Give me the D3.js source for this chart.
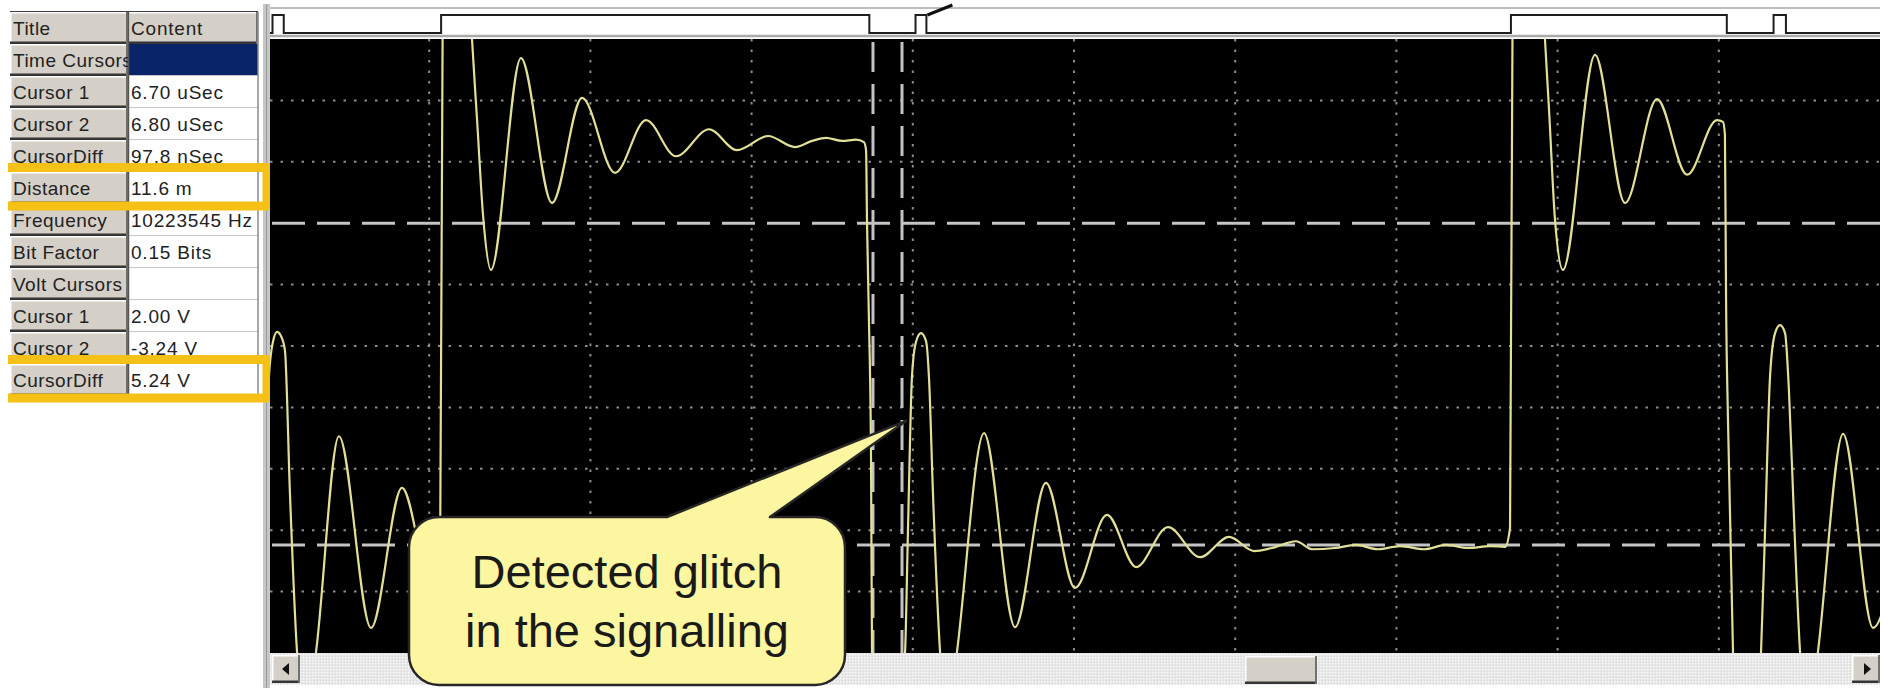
<!DOCTYPE html>
<html><head><meta charset="utf-8">
<script src="https://cdn.jsdelivr.net/npm/d3@7"></script>
<style>
html,body{margin:0;padding:0;background:#fff;}
svg{display:block;}
</style></head><body>
<svg id="c" width="1884" height="688"></svg>
<script>
// ---------------- data ----------------
const tableTitles   = ["Title","Time Cursors","Cursor 1","Cursor 2","CursorDiff","Distance","Frequency","Bit Factor","Volt Cursors","Cursor 1","Cursor 2","CursorDiff"];
const tableContents = ["Content","","6.70 uSec","6.80 uSec","97.8 nSec","11.6 m","10223545 Hz","0.15 Bits","","2.00 V","-3.24 V","5.24 V"];
const highlightedRows = [5, 11];
const selectedRow = 1;

// waveform samples: time in horizontal divisions, amplitude in volts (1 V/div)
const timeDiv = [-0.081,-0.037,-0.019,0.006,0.031,0.056,0.081,0.105,0.136,0.180,0.236,0.298,0.440,0.639,0.831,1.017,1.067,1.086,1.179,1.266,1.297,1.334,1.383,1.569,1.762,1.948,2.153,2.345,2.531,2.736,2.909,3.102,3.269,3.375,3.462,3.561,3.648,3.697,3.710,3.716,3.728,3.741,3.747,3.766,3.828,3.908,3.952,3.970,3.995,4.020,4.051,4.082,4.101,4.125,4.169,4.218,4.274,4.442,4.634,4.826,5.006,5.205,5.385,5.583,5.782,5.962,6.117,6.228,6.377,6.476,6.619,6.749,6.886,7.022,7.171,7.308,7.444,7.581,7.674,7.705,7.723,7.829,7.922,7.947,7.984,8.033,8.232,8.418,8.617,8.803,8.989,9.026,9.038,9.045,9.057,9.088,9.119,9.175,9.231,9.262,9.287,9.318,9.349,9.380,9.411,9.435,9.467,9.504,9.559,9.615,9.771,9.957,10.093];
const volts   = [-6.09,-4.98,-3.00,-0.49,0.07,0.23,0.16,-0.07,-2.39,-4.98,-6.09,-4.98,-1.47,-4.59,-2.31,-3.94,-3.76,6.61,10.52,4.98,3.68,2.13,1.24,4.69,2.33,4.04,2.82,3.68,3.09,3.53,3.19,3.42,3.24,3.34,3.39,3.34,3.36,3.32,3.19,2.02,0.42,-1.86,-4.98,-6.09,-6.74,-6.09,-4.98,-3.00,-0.49,0.07,0.21,0.08,-0.55,-2.39,-4.98,-6.09,-4.98,-1.42,-4.58,-2.23,-3.94,-2.75,-3.60,-2.95,-3.44,-3.11,-3.34,-3.29,-3.18,-3.31,-3.29,-3.24,-3.31,-3.26,-3.31,-3.24,-3.29,-3.26,-3.27,-2.96,6.61,10.52,4.98,3.84,2.05,1.24,4.74,2.33,4.02,2.79,3.68,3.65,3.44,0.77,-1.21,-4.98,-6.09,-6.74,-6.09,-4.98,-3.00,-0.49,0.21,0.34,0.21,-0.72,-2.83,-4.98,-6.09,-4.98,-1.43,-4.59,-3.49];

const timeCursors = [3.753, 3.933];      // cursor 1, cursor 2 (divisions)
const voltCursors = [2.00, -3.24];       // volt cursors
const logicThreshold = 0;                // volts, for digital trace
const glitchMarker = {t: 3.958, v: -1.22};
const calloutLines = ["Detected glitch", "in the signalling"];
const xGridDiv = [1,2,3,4,5,6,7,8,9];
const yGridVolts = [-4,-3,-2,-1,0,1,3,4];

// ---------------- layout ----------------
const svg = d3.select("#c");
const P = {x0: 268, x1: 1880, y0: 39, y1: 653, left: 270};
const x = d3.scaleLinear().domain([0, 10]).range([P.x0, P.x1]);
const y = d3.scaleLinear().domain([-5, 5]).range([P.y1, P.y0]);
const yL = d3.scaleLinear().domain([0, 1]).range([33, 15]);
const FONT = "'Liberation Sans', Arial, sans-serif";

const defs = svg.append("defs");
defs.append("clipPath").attr("id","plotClip").append("rect")
  .attr("x",P.left).attr("y",P.y0).attr("width",P.x1-P.left).attr("height",P.y1-P.y0);
defs.append("clipPath").attr("id","stripClip").append("rect")
  .attr("x",P.left).attr("y",0).attr("width",P.x1-P.left).attr("height",39);
defs.append("clipPath").attr("id","leftColClip").append("rect")
  .attr("x",10).attr("y",0).attr("width",119).attr("height",688);
const pat = defs.append("pattern").attr("id","dith").attr("width",3).attr("height",3).attr("patternUnits","userSpaceOnUse");
pat.append("rect").attr("width",3).attr("height",3).attr("fill","#e8e8e8");
pat.append("rect").attr("width",1).attr("height",1).attr("fill","#ffffff");
pat.append("rect").attr("x",2).attr("y",2).attr("width",1).attr("height",1).attr("fill","#d8d8d8");

function bevel(g, bx, by, w, h, fill){
  g.append("rect").attr("x",bx).attr("y",by).attr("width",w).attr("height",h).attr("fill",fill);
  g.append("line").attr("x1",bx).attr("x2",bx+w).attr("y1",by+0.75).attr("y2",by+0.75).attr("stroke","#fff").attr("stroke-width",1.5);
  g.append("line").attr("x1",bx+0.75).attr("x2",bx+0.75).attr("y1",by).attr("y2",by+h).attr("stroke","#fff").attr("stroke-width",1.5);
  g.append("line").attr("x1",bx).attr("x2",bx+w).attr("y1",by+h-1.25).attr("y2",by+h-1.25).attr("stroke","#353535").attr("stroke-width",2.5);
  g.append("line").attr("x1",bx+w-1).attr("x2",bx+w-1).attr("y1",by).attr("y2",by+h).attr("stroke","#707070").attr("stroke-width",2);
}

// ---------------- table ----------------
const T = {x0: 10, x1: 128, x2: 258, top: 12, rh: 32};
const tg = svg.append("g");
tg.append("line").attr("x1",T.x0).attr("x2",T.x2).attr("y1",T.top).attr("y2",T.top).attr("stroke","#404040").attr("stroke-width",2);
tableTitles.forEach((lab, i) => {
  const yt = T.top + i*T.rh;
  bevel(tg, T.x0, yt, T.x1-T.x0, T.rh, "#d4d0c8");
  if (i === 0) bevel(tg, T.x1, yt, T.x2-T.x1, T.rh, "#d4d0c8");
  else {
    tg.append("rect").attr("x",T.x1).attr("y",yt).attr("width",T.x2-T.x1).attr("height",T.rh)
      .attr("fill", i === selectedRow ? "#0a246a" : "#ffffff");
    tg.append("line").attr("x1",T.x1).attr("x2",T.x2).attr("y1",yt+T.rh-0.5).attr("y2",yt+T.rh-0.5)
      .attr("stroke","#c8c8c8").attr("stroke-width",1);
  }
});
tg.append("g").attr("clip-path","url(#leftColClip)").selectAll("text").data(tableTitles).join("text")
  .attr("x", T.x0+3).attr("y",(d,i)=>T.top+i*T.rh+T.rh/2+6.5)
  .attr("font-family",FONT).attr("font-size",19).attr("letter-spacing",0.5).attr("fill","#222").text(d=>d);
tg.append("line").attr("x1",T.x1+0.5).attr("x2",T.x1+0.5).attr("y1",T.top).attr("y2",T.top+tableTitles.length*T.rh).attr("stroke","#555").attr("stroke-width",1.5);
tg.append("line").attr("x1",T.x2).attr("x2",T.x2).attr("y1",T.top).attr("y2",T.top+tableTitles.length*T.rh).attr("stroke","#8a8a8a").attr("stroke-width",1.5);
tg.append("g").selectAll("text").data(tableContents).join("text")
  .attr("x", T.x1+3).attr("y",(d,i)=>T.top+i*T.rh+T.rh/2+6.5)
  .attr("font-family",FONT).attr("font-size",19).attr("letter-spacing",0.8).attr("fill","#222").text(d=>d);

// panel separator
svg.append("rect").attr("x",263).attr("y",4).attr("width",7).attr("height",684).attr("fill","#c6c6c6");
svg.append("line").attr("x1",266.5).attr("x2",266.5).attr("y1",4).attr("y2",688).attr("stroke","#9a9a9a").attr("stroke-width",1);

// highlight boxes
highlightedRows.forEach(r => {
  const top = T.top + r*T.rh - 4.5, bot = T.top + (r+1)*T.rh + 2;
  svg.append("path").attr("d",`M8,${top}H267V${bot}H8`).attr("fill","none")
    .attr("stroke","#f6c116").attr("stroke-width",9).attr("stroke-linejoin","miter");
});

// ---------------- logic strip ----------------
svg.append("rect").attr("x",P.left).attr("y",8).attr("width",P.x1-P.left).attr("height",29).attr("fill","#fff");
svg.append("line").attr("x1",P.left).attr("x2",P.x1).attr("y1",8).attr("y2",8).attr("stroke","#bdbdbd").attr("stroke-width",2);
svg.append("line").attr("x1",P.left).attr("x2",P.x1).attr("y1",36).attr("y2",36).attr("stroke","#aaaaaa").attr("stroke-width",2.5);

function valueAt(t){
  for (let i=1;i<timeDiv.length;i++){
    if (timeDiv[i] >= t){
      const f = (t - timeDiv[i-1])/(timeDiv[i]-timeDiv[i-1]);
      return volts[i-1] + f*(volts[i]-volts[i-1]);
    }
  }
  return volts[volts.length-1];
}
const logic = [{t: 0, s: valueAt(0) > logicThreshold ? 1 : 0}];
for (let i=1;i<timeDiv.length;i++){
  const a = volts[i-1]-logicThreshold, b = volts[i]-logicThreshold;
  if ((a <= 0) !== (b <= 0)){
    const tc = timeDiv[i-1] + (timeDiv[i]-timeDiv[i-1]) * (a/(a-b));
    if (tc > 0 && tc < 10) logic.push({t: tc, s: b > 0 ? 1 : 0});
  }
}
logic.push({t: 10, s: logic[logic.length-1].s});
svg.append("path").datum(logic).attr("clip-path","url(#stripClip)")
  .attr("d", d3.line().x(d=>x(d.t)).y(d=>yL(d.s)).curve(d3.curveStepAfter))
  .attr("fill","none").attr("stroke","#1e1e1e").attr("stroke-width",2);
// marker after the detected glitch pulse
const pulses = logic.filter((d,i)=>i>0 && d.s===0);
const gEnd = pulses.find(d => d.t > timeCursors[1]);
if (gEnd) svg.append("line").attr("x1",x(gEnd.t)+1).attr("y1",15).attr("x2",x(gEnd.t)+26).attr("y2",5)
  .attr("stroke","#111").attr("stroke-width",3);

// ---------------- scope screen ----------------
svg.append("rect").attr("x",P.left).attr("y",P.y0).attr("width",P.x1-P.left).attr("height",P.y1-P.y0).attr("fill","#000");
const grid = svg.append("g").attr("clip-path","url(#plotClip)");
grid.selectAll("line.v").data(xGridDiv).join("line").attr("class","v")
  .attr("x1",d=>x(d)).attr("x2",d=>x(d)).attr("y1",P.y0).attr("y2",P.y1)
  .attr("stroke","#8c8c8c").attr("stroke-width",2).attr("stroke-dasharray","2.5,8");
grid.selectAll("line.h").data(yGridVolts).join("line").attr("class","h")
  .attr("x1",P.left).attr("x2",P.x1).attr("y1",d=>y(d)).attr("y2",d=>y(d))
  .attr("stroke","#8c8c8c").attr("stroke-width",2).attr("stroke-dasharray","2.5,8");
// cursors
grid.selectAll("line.vc").data(timeCursors).join("line").attr("class","vc")
  .attr("x1",d=>x(d)).attr("x2",d=>x(d)).attr("y1",P.y0+3).attr("y2",P.y1)
  .attr("stroke","#c4c4c4").attr("stroke-width",3).attr("stroke-dasharray","30,12");
grid.selectAll("line.hc").data(voltCursors).join("line").attr("class","hc")
  .attr("x1",P.left+2).attr("x2",P.x1).attr("y1",d=>y(d)).attr("y2",d=>y(d))
  .attr("stroke","#c4c4c4").attr("stroke-width",3).attr("stroke-dasharray","33,12");
// waveform
const samples = timeDiv.map((t,i)=>({t, v: volts[i]}));
grid.append("path").datum(samples)
  .attr("d", d3.line().x(d=>x(d.t)).y(d=>y(d.v)).curve(d3.curveMonotoneX))
  .attr("fill","none").attr("stroke","#e2df96").attr("stroke-width",2.2).attr("stroke-linejoin","round");

// ---------------- scrollbar ----------------
const sb = svg.append("g");
sb.append("rect").attr("x",P.left).attr("y",653).attr("width",P.x1-P.left).attr("height",32).attr("fill","url(#dith)");
bevel(sb, 272, 655, 28, 28, "#d4d0c8");
sb.append("path").attr("d","M282,669L289,663L289,675Z").attr("fill","#111");
bevel(sb, 1852, 655, 28, 28, "#d4d0c8");
sb.append("path").attr("d","M1871,669L1864,663L1864,675Z").attr("fill","#111");
bevel(sb, 1245, 656, 72, 28, "#d4d0c8");

// ---------------- callout ----------------
const B = {x0: 409, x1: 845, y0: 517, y1: 685, r: 30, p0: 667, p1: 770};
const tipX = x(glitchMarker.t), tipY = y(glitchMarker.v);
const cp = `M${B.x0+B.r},${B.y0}L${B.p0},${B.y0}L${tipX},${tipY}L${B.p1},${B.y0}L${B.x1-B.r},${B.y0}`+
  `A${B.r},${B.r} 0 0 1 ${B.x1},${B.y0+B.r}L${B.x1},${B.y1-B.r}A${B.r},${B.r} 0 0 1 ${B.x1-B.r},${B.y1}`+
  `L${B.x0+B.r},${B.y1}A${B.r},${B.r} 0 0 1 ${B.x0},${B.y1-B.r}L${B.x0},${B.y0+B.r}A${B.r},${B.r} 0 0 1 ${B.x0+B.r},${B.y0}Z`;
svg.append("path").attr("d",cp).attr("fill","#fcf6a0").attr("stroke","#262626").attr("stroke-width",2.5).attr("stroke-linejoin","round");
svg.append("g").selectAll("text").data(calloutLines).join("text")
  .attr("x",(B.x0+B.x1)/2).attr("y",(d,i)=>588+i*59).attr("text-anchor","middle")
  .attr("font-family",FONT).attr("font-size",47).attr("fill","#1a1a1a").text(d=>d);
</script>
</body></html>
